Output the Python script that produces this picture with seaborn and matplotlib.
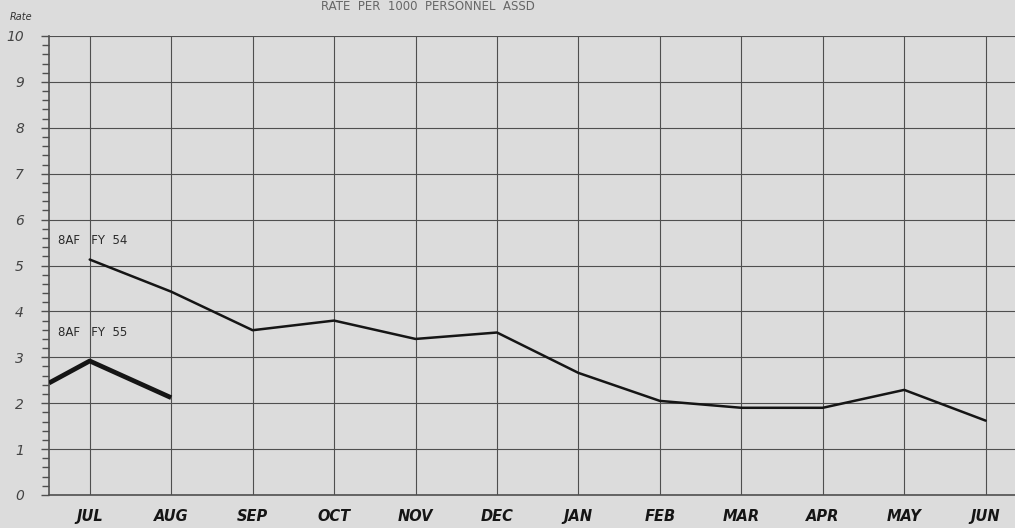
import matplotlib
matplotlib.use("Agg")
import matplotlib.pyplot as plt
import seaborn as sns
import pandas as pd
import numpy as np

# ---- data ----
months = ["JUL", "AUG", "SEP", "OCT", "NOV", "DEC", "JAN", "FEB", "MAR", "APR", "MAY", "JUN"]
fy54 = [5.13, 4.43, 3.59, 3.80, 3.40, 3.54, 2.66, 2.05, 1.90, 1.90, 2.29, 1.62]
fy55_start = 2.44          # value where the FY55 line enters at the left edge
fy55 = [2.92, 2.12]        # JUL, AUG
yticks = [0, 1, 2, 3, 4, 5, 6, 7, 8, 9, 10]
title_text = "RATE  PER  1000  PERSONNEL  ASSD"
label54 = "8AF   FY  54"
label55 = "8AF   FY  55"

BG = "#dcdcdc"
INK = "#151515"
GRID = "#4f4f4f"

sns.set_style("white")
plt.rcParams["font.family"] = ["DejaVu Sans"]

fig = plt.figure(figsize=(10.15, 5.28), dpi=100, facecolor=BG)
ax = fig.add_axes([49 / 1015, 1 - 495 / 528, (1015 - 49) / 1015, (495 - 36) / 528])
ax.set_facecolor(BG)

x54 = np.arange(len(months))
df54 = pd.DataFrame({"x": x54, "rate": fy54})
x55 = np.concatenate([[x54[0] - 0.5], x54[:len(fy55)]])
df55 = pd.DataFrame({"x": x55, "rate": [fy55_start] + fy55})

sns.lineplot(data=df54, x="x", y="rate", ax=ax, color=INK, linewidth=1.8, zorder=5)
sns.lineplot(data=df55, x="x", y="rate", ax=ax, color=INK, linewidth=3.4, zorder=5,
             solid_capstyle="butt")

ax.set_xlim(-0.5, 11.36)
ax.set_ylim(0, 10)
ax.set_xticks(x54)
ax.set_xticklabels(months, fontsize=10.5, fontweight="bold", fontstyle="italic", color=INK)
ax.set_yticks(yticks)
ax.set_yticklabels([str(v) for v in yticks], fontsize=10, fontstyle="italic",
                   fontweight="light", color="#444444")
ax.set_yticks(np.arange(0, 10.01, 0.2), minor=True)

ax.grid(True, which="major", color=GRID, linewidth=0.8, linestyle="-")
ax.tick_params(axis="x", length=0, pad=10, bottom=False)
ax.tick_params(axis="y", which="both", left=True)
ax.tick_params(axis="y", which="major", length=6, width=1.0, color=GRID, pad=12, direction="out")
ax.tick_params(axis="y", which="minor", length=5, width=1.0, color=GRID, direction="out")
ax.set_xlabel("")
ax.set_ylabel("")

for s in ["top", "right"]:
    ax.spines[s].set_visible(False)
for s in ["left", "bottom"]:
    ax.spines[s].set_color(GRID)
    ax.spines[s].set_linewidth(1.2)

ax.text(-0.39, 5.55, label54, fontsize=8.5, color="#2a2a2a", va="center", ha="left")
ax.text(-0.39, 3.55, label55, fontsize=8.5, color="#2a2a2a", va="center", ha="left")

fig.text(10 / 1015, 1 - 17 / 528, "Rate", fontsize=7, fontstyle="italic", color="#333333",
         va="center", ha="left")
fig.text(428 / 1015, 1.0, title_text, fontsize=8.5, color="#666666",
         va="top", ha="center")

fig.savefig("out.png", dpi=100, facecolor=BG)
